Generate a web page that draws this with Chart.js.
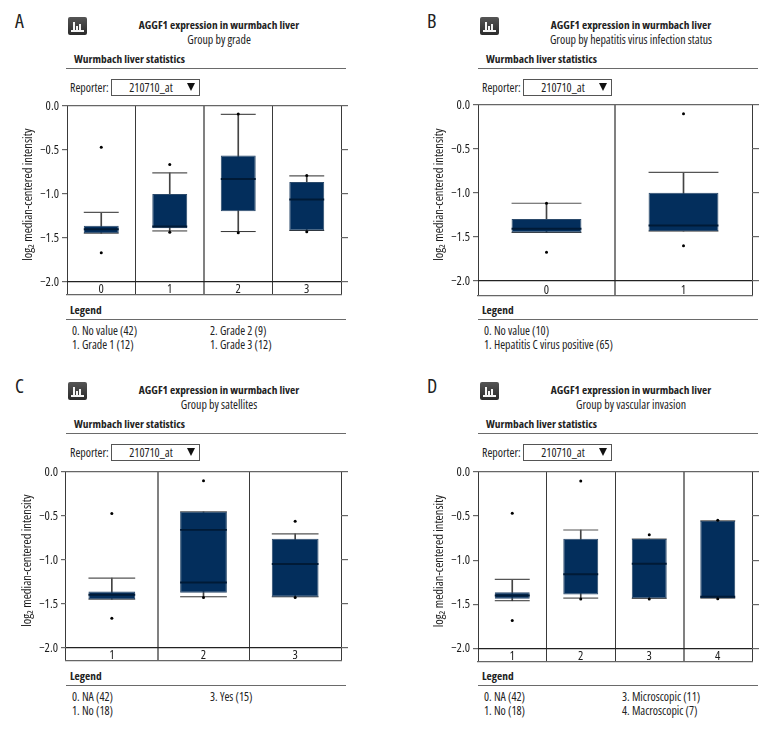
<!DOCTYPE html>
<html>
<head>
<meta charset="utf-8">
<script src="https://cdn.jsdelivr.net/npm/chart.js@4/dist/chart.umd.min.js"></script>
<style>
  html, body { margin: 0; padding: 0; background: #fff; }
  body { width: 780px; height: 732px; position: relative; overflow: hidden; font-family: "Open Sans", sans-serif; font-stretch: condensed; color: #222; }
  canvas { position: absolute; }
  .t { position: absolute; white-space: nowrap; line-height: 14px; height: 14px; font-size: 11.9px; }
  .b { font-weight: bold; font-size: 11.4px; }
  .c { transform: translateX(-50%); }
  .rule { position: absolute; height: 1px; background: #6a6a6a; }
  .t.letter { font-size: 20px; line-height: 22px; height: 22px; }
  .combo { position: absolute; width: 87px; height: 15px; border: 1px solid #555; box-sizing: content-box; }
  .tri { position: absolute; width: 0; height: 0; border-left: 4.5px solid transparent; border-right: 4.5px solid transparent; border-top: 8px solid #111; }
  .icon { position: absolute; width: 19px; height: 18px; border-radius: 2px; background: linear-gradient(#555, #2a2a2a); }
  .icon i { position: absolute; background: #f4f4f4; width: 2px; bottom: 3px; }
</style>
</head>
<body>
<script>
// Valeurs, une liste par panneau
const title = 'AGGF1 expression in wurmbach liver';
const statsHeader = 'Wurmbach liver statistics';
const reporter = '210710_at';
const yTickLabels = ['0.0', '\u22120.5', '\u22121.0', '\u22121.5', '\u22122.0'];
const yTitle = '     log\u2082 median-centered intensity';

const catsA = ['0', '1', '2', '3'];
const highA = [-1.21, -0.76, -0.095, -0.795];
const q3A = [-1.36, -1.0, -0.563, -0.864];
const medA = [-1.40, -1.37, -0.83, -1.062];
const q1A = [-1.445, -1.39, -1.195, -1.415];
const lowA = [-1.445, -1.42, -1.427, -1.415];
const outTopA = [-0.47, -0.666, -0.09, -0.79];
const outBotA = [-1.667, -1.435, -1.44, -1.43];

const catsB = ['0', '1'];
const highB = [-1.116, -0.766];
const q3B = [-1.295, -0.998];
const medB = [-1.406, -1.368];
const q1B = [-1.448, -1.432];
const lowB = [-1.448, -1.432];
const outTopB = [-1.116, -0.10];
const outBotB = [-1.672, -1.60];

const catsC = ['1', '2', '3'];
const highC = [-1.205, -0.452, -0.703];
const q3C = [-1.357, -0.452, -0.76];
const medC = [-1.395, -1.255, -1.046];
const upperLineC = [null, -0.658, null];
const q1C = [-1.445, -1.373, -1.418];
const lowC = [-1.445, -1.418, -1.418];
const outTopC = [-0.471, -0.099, -0.559];
const outBotC = [-1.662, -1.426, -1.426];

const catsD = ['1', '2', '3', '4'];
const highD = [-1.217, -0.658, -0.76, -0.555];
const q3D = [-1.365, -0.757, -0.76, -0.555];
const medD = [-1.40, -1.16, -1.042, -1.414];
const q1D = [-1.437, -1.388, -1.433, -1.43];
const lowD = [-1.46, -1.43, -1.433, -1.43];
const outTopD = [-0.468, -0.103, -0.711, -0.548];
const outBotD = [-1.684, -1.441, -1.441, -1.437];

const subtitleA = 'Group by grade';
const subtitleB = 'Group by hepatitis virus infection status';
const subtitleC = 'Group by satellites';
const subtitleD = 'Group by vascular invasion';
const legendA = [['0. No value (42)', '1. Grade 1 (12)'], ['2. Grade 2 (9)', '1. Grade 3 (12)']];
const legendB = [['0. No value (10)', '1. Hepatitis C virus positive (65)'], []];
const legendC = [['0. NA (42)', '1. No (18)'], ['3. Yes (15)']];
const legendD = [['0. NA (42)', '1. No (18)'], ['3. Microscopic (11)', '4. Macroscopic (7)']];

const BOX = '#032e5c';
const MED = '#001a36';
const FRAME = '#666';
const CHART_FONT = { family: '"Open Sans"', size: 12.5 };

function addText(cls, txt, x, y) {
    const d = document.createElement('div');
    d.className = 't ' + cls;
    d.textContent = txt;
    d.style.left = x + 'px';
    d.style.top = (y - 7) + 'px';
    document.body.appendChild(d);
    return d;
}

function addRule(x1, x2, y) {
    const d = document.createElement('div');
    d.className = 'rule';
    d.style.left = x1 + 'px';
    d.style.width = (x2 - x1) + 'px';
    d.style.top = y + 'px';
    document.body.appendChild(d);
}

// En-tete, selecteur et legende autour du graphique
function addDecor(letter, subtitle, legend, dx, dy, legY) {
    const l = addText('letter', letter, 15 + dx, 21 + dy);
    l.style.top = (10 + dy) + 'px';
    const ic = document.createElement('div');
    ic.className = 'icon';
    ic.style.left = (68 + dx) + 'px';
    ic.style.top = (17 + dy) + 'px';
    [[3, 2, 2], [5, 2, 10], [8, 2, 6], [11, 2, 8], [13, 3, 2]].forEach(b => {
        const i = document.createElement('i');
        i.style.left = b[0] + 'px';
        i.style.width = b[1] + 'px';
        i.style.height = b[2] + 'px';
        ic.appendChild(i);
    });
    const base = document.createElement('i');
    base.style.left = '3px';
    base.style.width = '13px';
    base.style.height = '2px';
    ic.appendChild(base);
    document.body.appendChild(ic);
    addText('b c', title, 219 + dx, 25 + dy);
    addText('c', subtitle, 219 + dx, 38.5 + dy);
    addText('b', statsHeader, 74 + dx, 59 + dy);
    addRule(66 + dx, 346 + dx, 68 + dy);
    addText('', 'Reporter:', 70 + dx, 87 + dy);
    const combo = document.createElement('div');
    combo.className = 'combo';
    combo.style.left = (111 + dx) + 'px';
    combo.style.top = (79 + dy) + 'px';
    document.body.appendChild(combo);
    addText('c', reporter, 151 + dx, 87 + dy);
    const tri = document.createElement('div');
    tri.className = 'tri';
    tri.style.left = (187 + dx) + 'px';
    tri.style.top = (83 + dy) + 'px';
    document.body.appendChild(tri);
    addText('b', 'Legend', 70 + dx, legY);
    addRule(66 + dx, 346 + dx, legY + 9);
    legend[0].forEach((s, i) => addText('', s, 72 + dx, legY + 20 + i * 13.7));
    legend[1].forEach((s, i) => addText('', s, 210 + dx, legY + 20 + i * 13.7));
}

const condensed = { id: 'condensed', beforeDraw: c => { c.ctx.fontStretch = 'condensed'; } };

function addBoxChart(cats, high, q3, med, q1, low, outTop, outBot, upperLine, opt) {
    const canvas = document.createElement('canvas');
    const left = opt.left - 57, top = opt.top - 16;
    const w = opt.right - left + 19, h = opt.bottom - top + 2;
    canvas.style.left = left + 'px';
    canvas.style.top = top + 'px';
    canvas.width = w;
    canvas.height = h;
    canvas.style.width = w + 'px';
    canvas.style.height = h + 'px';
    document.body.appendChild(canvas);

    const capR = (opt.right - opt.left) / cats.length * 0.255;
    const stems = high.map((v, i) => [low[i], v]);
    const boxes = q1.map((v, i) => [v, q3[i]]);
    const ink = '#1c1c1c';
    const lineDs = (data, color, width, order) => ({
        type: 'line', data: data, showLine: false, order: order, borderColor: color, backgroundColor: color,
        pointStyle: 'line', pointRadius: capR, pointBorderWidth: width, pointBorderColor: color, spanGaps: false
    });
    const dotDs = data => ({
        type: 'line', data: data, showLine: false, order: 0, pointStyle: 'circle', pointRadius: 1.5,
        pointBackgroundColor: '#000', pointBorderColor: '#000', pointBorderWidth: 0
    });

    const datasets = [
        { type: 'bar', data: stems, order: 5, backgroundColor: '#444', barThickness: 1, grouped: false },
        { type: 'bar', data: boxes, order: 3, backgroundColor: BOX, borderColor: '#2b4a6b', borderWidth: 1,
          borderSkipped: false, barPercentage: 0.51, categoryPercentage: 1, grouped: false },
        lineDs(high, '#555', 1.2, 4),
        lineDs(low, '#333', 1, 4),
        lineDs(med, MED, 2, 2),
        dotDs(outTop),
        dotDs(outBot)
    ];
    if (upperLine) datasets.push(lineDs(upperLine, MED, 1.6, 2));

    new Chart(canvas, {
        data: { labels: cats, datasets: datasets },
        plugins: [condensed],
        options: {
            responsive: false,
            animation: false,
            events: [],
            layout: { autoPadding: false, padding: { top: 16, bottom: 1 } },
            plugins: { legend: { display: false }, tooltip: { enabled: false } },
            scales: {
                x: {
                    offset: true,
                    grid: {
                        offset: true,
                        drawTicks: false,
                        color: c => (c.index === opt.thick ? '#808080' : '#3a3a3a'),
                        lineWidth: c => (c.index === opt.thick ? 2 : 1)
                    },
                    border: { color: FRAME, width: 1.2 },
                    ticks: { mirror: true, padding: -2, color: ink, maxRotation: 0, font: CHART_FONT },
                    afterFit: s => { s.height = 0; s.paddingLeft = s.paddingRight = 0; }
                },
                y: {
                    min: opt.min,
                    max: 0,
                    grid: {
                        tickLength: 5,
                        lineWidth: 1.2,
                        tickColor: FRAME,
                        color: c => (c.tick.value === -2 ? '#222' : c.tick.value === 0 ? FRAME : 'transparent')
                    },
                    border: { display: false },
                    ticks: {
                        stepSize: 0.5,
                        includeBounds: false,
                        autoSkip: false,
                        padding: 3,
                        color: ink,
                        font: CHART_FONT,
                        callback: v => yTickLabels[Math.round(-v * 2)]
                    },
                    title: {
                        display: true,
                        text: yTitle,
                        color: ink,
                        padding: { top: 11, bottom: 0 },
                        font: CHART_FONT
                    },
                    afterFit: s => { s.width = 57; s.paddingTop = s.paddingBottom = 0; }
                },
                y2: {
                    position: 'right',
                    axis: 'y',
                    min: opt.min,
                    max: 0,
                    grid: { drawOnChartArea: false, tickLength: 7, lineWidth: 1.2, color: FRAME },
                    border: { display: false },
                    ticks: { stepSize: 0.5, includeBounds: false, display: false },
                    afterFit: s => { s.width = 19; s.paddingTop = s.paddingBottom = 0; }
                }
            }
        }
    });
}

addDecor('A', subtitleA, legendA, 0, 0, 310);
addDecor('B', subtitleB, legendB, 412, 0, 310);
addDecor('C', subtitleC, legendC, 0, 365, 676);
addDecor('D', subtitleD, legendD, 412, 365, 676);

addBoxChart(catsA, highA, q3A, medA, q1A, lowA, outTopA, outBotA, null, { left: 67, right: 341, top: 106, bottom: 294, min: -2.148, thick: 2 });
addBoxChart(catsB, highB, q3B, medB, q1B, lowB, outTopB, outBotB, null, { left: 478, right: 752, top: 105, bottom: 295, min: -2.17, thick: 1 });
addBoxChart(catsC, highC, q3C, medC, q1C, lowC, outTopC, outBotC, upperLineC, { left: 66, right: 341, top: 472, bottom: 660, min: -2.148, thick: 1 });
addBoxChart(catsD, highD, q3D, medD, q1D, lowD, outTopD, outBotD, null, { left: 478, right: 752, top: 472, bottom: 661, min: -2.155, thick: 3 });
</script>
</body>
</html>
